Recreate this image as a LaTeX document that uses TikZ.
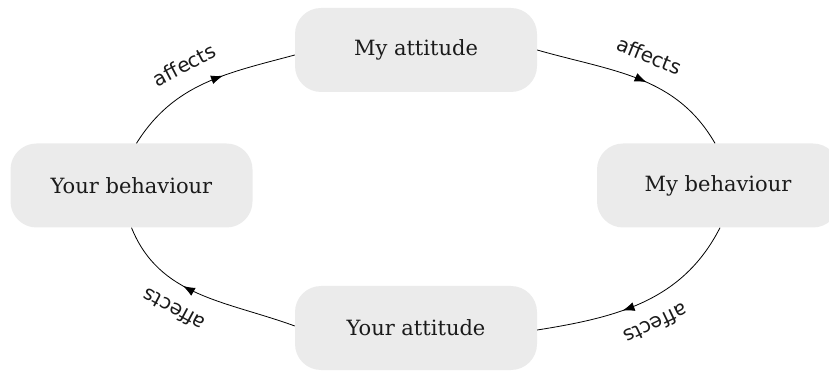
\documentclass[tikz,border=0pt]{standalone}
\usepackage{fontspec}
\setmainfont{DejaVu Serif}
\newfontfamily\labelfont{DejaVu Sans}
\usetikzlibrary{arrows.meta, decorations.markings}
\definecolor{BoxGrey}{HTML}{EBEBEB}
\definecolor{TextInk}{HTML}{1A1A1A}

\begin{document}
\begin{tikzpicture}[x=1pt,y=1pt,every node/.style={text=TextInk},statebox/.style={fill=BoxGrey,rounded corners=26pt,minimum width=242pt,minimum height=84pt,font=\fontsize{21}{25}\selectfont},affectarrow/.style={draw=black,line width=0.8pt,postaction={decorate},decoration={markings,mark=at position #1 with {\arrow{Latex[length=12pt,width=9pt]}}}},affectlabel/.style={sloped,allow upside down,above=14pt,font=\labelfont\fontsize{20}{24}\selectfont}]
\useasboundingbox (0,0) rectangle (829,372);
\node[statebox] (myatt) at (416,322) {My attitude};
\node[statebox] (yourbeh) at (131.5,186.5) {Your behaviour};
\node[statebox] (mybeh) at (718,186.5) {My behaviour};
\node[statebox] (youratt) at (416,44) {Your attitude};
\draw[affectarrow=0.6] ([xshift=5pt]yourbeh.north) to[out=58,in=195] node[affectlabel,pos=0.45] {affects} ([yshift=-5pt]myatt.west);
\draw[affectarrow=0.55] (myatt.east) to[out=-16,in=120] node[affectlabel,pos=0.5] {affects} ([xshift=-3pt]mybeh.north);
\draw[affectarrow=0.6] ([xshift=2pt]mybeh.south) to[out=-117,in=9] node[affectlabel,pos=0.5] {affects} ([yshift=-2pt]youratt.east);
\draw[affectarrow=0.6] ([yshift=2pt]youratt.west) to[out=160,in=-68] node[affectlabel,pos=0.57] {affects} (yourbeh.south);
\end{tikzpicture}
\end{document}
